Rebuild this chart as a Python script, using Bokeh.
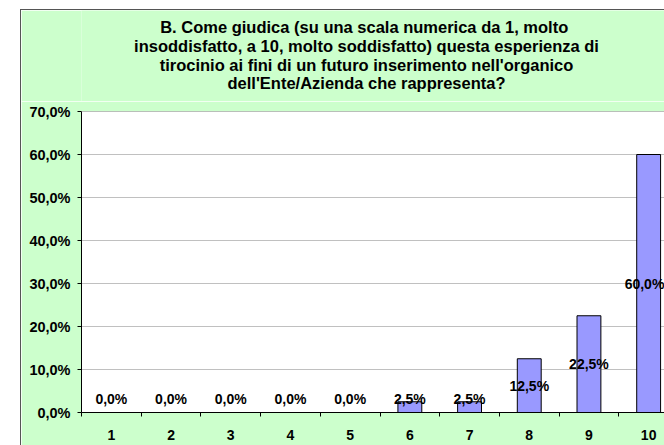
from bokeh.plotting import figure
from bokeh.models import Range1d, FixedTicker, ColumnDataSource, Span, Spacer
from bokeh.layouts import column, row
from bokeh.embed import file_html
from bokeh.resources import INLINE
from bokeh.core.properties import value

# ---- data ----
categories = [1, 2, 3, 4, 5, 6, 7, 8, 9, 10]
cat_labels = ["1", "2", "3", "4", "5", "6", "7", "8", "9", "10"]
percentages = [0.0, 0.0, 0.0, 0.0, 0.0, 2.5, 2.5, 12.5, 22.5, 60.0]
pct_labels = ["0,0%", "0,0%", "0,0%", "0,0%", "0,0%", "2,5%", "2,5%", "12,5%", "22,5%", "60,0%"]
y_ticks = [0, 10, 20, 30, 40, 50, 60, 70]
y_tick_labels = ["0,0%", "10,0%", "20,0%", "30,0%", "40,0%", "50,0%", "60,0%", "70,0%"]
title_lines = [
    "B.  Come giudica (su una scala numerica da 1, molto",
    "insoddisfatto, a 10, molto soddisfatto) questa esperienza di",
    "tirocinio ai fini di un futuro inserimento nell'organico",
    "dell'Ente/Azienda che rappresenta?",
]

# ---- style / layout ----
GREEN = "#CCFFCC"
BAR = "#9999FF"
BORDER = "#555555"
FONT = "Liberation Sans"
label_floor = 3.2
PX_PER_CAT = 59.7
FRAME_W = 583
X_START = 0.5
X_END = X_START + FRAME_W / PX_PER_CAT
LABEL_HALF_W = 20

FIG_W = 643
TITLE_H = 91
MAIN_H = 344
TITLE_CX = 285          # title centre, pixels right of the plot frame's left edge
TITLE_BASE = 16.7       # first title baseline, pixels below the title panel top
TITLE_STEP = 18.7

# ---- title panel (separate svg figure, green; its frame aligns with the chart's) ----
tf = figure(width=FIG_W, height=TITLE_H, output_backend="svg", toolbar_location=None,
            title_location=None,
            x_range=Range1d(0, FRAME_W), y_range=Range1d(TITLE_H, 0),
            x_axis_location=None, y_axis_location=None,
            min_border_left=60, min_border_right=0, min_border_top=0, min_border_bottom=0,
            outline_line_color=None,
            background_fill_color=GREEN, border_fill_color=GREEN)
tf.grid.visible = False
title_src = ColumnDataSource(dict(
    x=[TITLE_CX] * len(title_lines),
    y=[TITLE_BASE + i * TITLE_STEP for i in range(len(title_lines))],
    t=title_lines,
))
tf.text(x="x", y="y", text="t", source=title_src,
        text_align="center", text_baseline="alphabetic",
        text_font=value(FONT), text_font_style="bold",
        text_font_size="16.5px", text_color="black")

# ---- main chart ----
src = ColumnDataSource(dict(
    x=categories,
    top=percentages,
    lab=pct_labels,
    ly=[max(v / 2.0, label_floor) for v in percentages],
    xo=[min(0.0, (X_END - c) * PX_PER_CAT - LABEL_HALF_W) for c in categories],
))

p = figure(
    width=FIG_W, height=MAIN_H,
    output_backend="svg", toolbar_location=None,
    title_location=None,
    x_range=Range1d(X_START, X_END),
    y_range=Range1d(0, 70),
    min_border_left=60, min_border_right=0,
    min_border_top=10, min_border_bottom=33,
    background_fill_color="white",
    border_fill_color=GREEN,
    outline_line_color=None,
)

p.vbar(x="x", top="top", width=0.4, source=src,
       fill_color=BAR, line_color="black", line_width=1)

p.text(x="x", y="ly", text="lab", x_offset="xo", source=src,
       text_align="center", text_baseline="middle",
       text_font=value(FONT), text_font_style="bold",
       text_font_size="14px", text_color="black")

# x axis
p.xaxis.ticker = FixedTicker(ticks=categories,
                             minor_ticks=[c - 0.5 for c in categories] + [categories[-1] + 0.5])
p.xaxis.major_label_overrides = {c: l for c, l in zip(categories, cat_labels)}
p.xaxis.major_tick_line_color = None
p.xaxis.major_tick_out = 0
p.xaxis.major_tick_in = 0
p.xaxis.minor_tick_line_color = "black"
p.xaxis.minor_tick_out = 4
p.xaxis.minor_tick_in = 0
p.xaxis.axis_line_color = "black"
p.xaxis.major_label_standoff = 13
p.xaxis.major_label_text_font = FONT
p.xaxis.major_label_text_font_style = "bold"
p.xaxis.major_label_text_font_size = "14px"
p.xaxis.major_label_text_color = "black"

# y axis
p.yaxis.ticker = FixedTicker(ticks=y_ticks, minor_ticks=[])
p.yaxis.major_label_overrides = {t: l for t, l in zip(y_ticks, y_tick_labels)}
p.yaxis.major_tick_out = 4
p.yaxis.major_tick_in = 0
p.yaxis.major_tick_line_color = "black"
p.yaxis.minor_tick_line_color = None
p.yaxis.axis_line_color = "black"
p.yaxis.major_label_standoff = 7
p.yaxis.major_label_text_font = FONT
p.yaxis.major_label_text_font_style = "bold"
p.yaxis.major_label_text_font_size = "14.5px"
p.yaxis.major_label_text_color = "black"

p.xgrid.grid_line_color = None
p.ygrid.ticker = FixedTicker(ticks=y_ticks)
p.ygrid.grid_line_color = "#C0C0C0"
p.ygrid.grid_line_width = 1

p.add_layout(Span(location=y_ticks[-1], dimension="width", line_color="#808080", line_width=1))

right_col = column(Spacer(width=FIG_W, height=1, styles={"background-color": BORDER}),
                   tf, p, spacing=0)
r = row(Spacer(width=20, height=1 + TITLE_H + MAIN_H),
        Spacer(width=1, height=1 + TITLE_H + MAIN_H, styles={"background-color": BORDER}),
        right_col, spacing=0)
layout = column(Spacer(width=20 + 1 + FIG_W, height=9), r, spacing=0)

open("out.html", "w").write(file_html(layout, INLINE))
